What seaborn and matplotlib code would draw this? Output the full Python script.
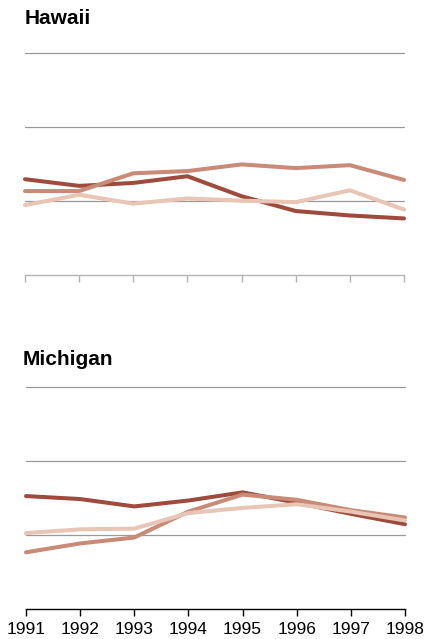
import pandas as pd
import seaborn as sns
import matplotlib.pyplot as plt

sns.set_style("white")
plt.rcParams['font.family'] = ['Liberation Sans', 'DejaVu Sans']
plt.rcParams['text.color'] = 'black'
plt.rcParams['xtick.color'] = 'black'

years = [1991, 1992, 1993, 1994, 1995, 1996, 1997, 1998]
series_names = ["dark", "medium", "light"]
colors = ["#9e4a3c", "#c98a77", "#e9c5b5"]

# values (gridlines at 1, 2, 3)
hawaii_dark = [1.30, 1.21, 1.25, 1.34, 1.07, 0.87, 0.81, 0.77]
hawaii_medium = [1.14, 1.14, 1.38, 1.41, 1.50, 1.45, 1.49, 1.29]
hawaii_light = [0.95, 1.09, 0.97, 1.04, 1.01, 0.99, 1.15, 0.89]

michigan_dark = [1.53, 1.49, 1.39, 1.47, 1.58, 1.44, 1.29, 1.15]
michigan_medium = [0.77, 0.89, 0.97, 1.32, 1.55, 1.48, 1.34, 1.24]
michigan_light = [1.03, 1.08, 1.09, 1.30, 1.37, 1.42, 1.32, 1.20]


def to_long(dark, medium, light):
    rows = []
    for name, vals in zip(series_names, [dark, medium, light]):
        for y, v in zip(years, vals):
            rows.append({"year": y, "series": name, "value": v})
    return pd.DataFrame(rows)


fig = plt.figure(figsize=(4.26, 6.39), dpi=100)
ax1 = fig.add_axes([0.0587, 0.569, 0.8897, 0.3474])
ax2 = fig.add_axes([0.0610, 0.0465, 0.8897, 0.3474])

panels = [(ax1, to_long(hawaii_dark, hawaii_medium, hawaii_light), "#b4b4b4", False),
          (ax2, to_long(michigan_dark, michigan_medium, michigan_light), "black", True)]

for ax, df, axcol, labels in panels:
    for g in [1, 2, 3]:
        ax.axhline(g, color="#9a9a9a", lw=0.9, zorder=0)
    sns.lineplot(data=df, x="year", y="value", hue="series", hue_order=series_names,
                 palette=colors, lw=2.9, ax=ax, legend=False)
    ax.set_xlim(1991, 1998)
    ax.set_ylim(0, 3)
    ax.set_yticks([])
    ax.set_xticks(years)
    ax.set_xlabel("")
    ax.set_ylabel("")
    for s in ["top", "left", "right"]:
        ax.spines[s].set_visible(False)
    ax.spines["bottom"].set_color(axcol)
    ax.spines["bottom"].set_linewidth(1.0)
    ax.tick_params(axis="x", bottom=True, direction="out", length=5, width=1,
                   color=axcol, labelcolor="black", labelsize=12.5, pad=4,
                   labelbottom=labels)
    for sp in ax.spines.values():
        sp.set_clip_on(False)
    for ln in ax.lines:
        ln.set_clip_on(False)

fig.text(25 / 426, 1 - 24 / 639, "Hawaii", fontsize=15, fontweight="bold", va="baseline")
fig.text(23 / 426, 1 - 365 / 639, "Michigan", fontsize=15, fontweight="bold", va="baseline")

fig.savefig("out.png", dpi=100)
